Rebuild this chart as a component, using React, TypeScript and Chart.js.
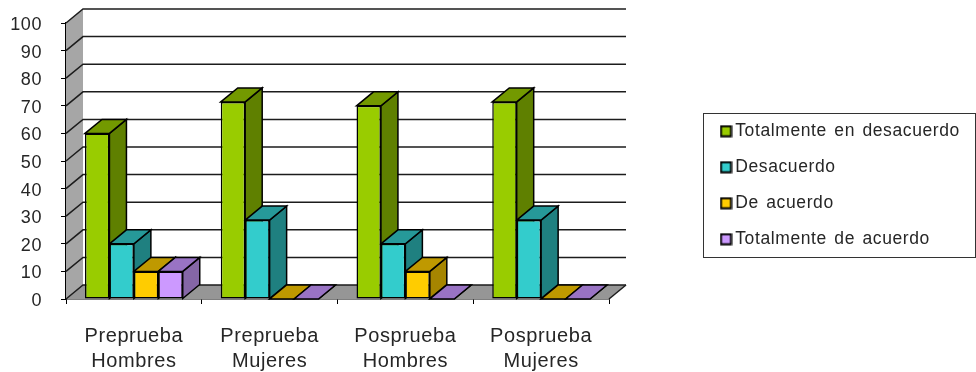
import { useEffect, useRef } from "react";
import { Chart, registerables } from "chart.js";

Chart.register(...registerables);

const categories = [
  ["Preprueba", "Hombres"],
  ["Preprueba", "Mujeres"],
  ["Posprueba", "Hombres"],
  ["Posprueba", "Mujeres"],
];
const seriesNames = ["Totalmente en desacuerdo", "Desacuerdo", "De acuerdo", "Totalmente de acuerdo"];
const totalmenteDesacuerdo = [60, 71.4, 70, 71.4];
const desacuerdo = [20, 28.6, 20, 28.6];
const deAcuerdo = [10, 0, 10, 0];
const totalmenteAcuerdo = [10, 0, 0, 0];
const seriesValues = [totalmenteDesacuerdo, desacuerdo, deAcuerdo, totalmenteAcuerdo];
const frontColors = ["#99CC00", "#33CCCC", "#FFCC00", "#CC99FF"];
const topColors = ["#739900", "#269999", "#BF9900", "#9973C4"];
const sideColors = ["#5F8000", "#1F8080", "#A68500", "#8566A6"];

const FONT = "'Liberation Sans', Arial, sans-serif";
const INK = "#262626";
const DEPTH_X = 17;
const DEPTH_Y = 14;

function polygon(ctx: CanvasRenderingContext2D, pts: number[][], fill: string | null, stroke = "#000", width = 1.5) {
  ctx.beginPath();
  pts.forEach(([x, y], i) => (i ? ctx.lineTo(x, y) : ctx.moveTo(x, y)));
  ctx.closePath();
  if (fill) {
    ctx.fillStyle = fill;
    ctx.fill();
  }
  if (stroke) {
    ctx.strokeStyle = stroke;
    ctx.lineWidth = width;
    ctx.lineJoin = "miter";
    ctx.stroke();
  }
}

function legendSwatch(color: string) {
  const c = document.createElement("canvas");
  c.width = 13;
  c.height = 13;
  const g = c.getContext("2d")!;
  g.fillStyle = "#000";
  g.fillRect(0.5, 0.5, 12, 12);
  g.fillStyle = color;
  g.fillRect(2.5, 2.5, 8, 8);
  return c;
}

function applyTextSpacing(ctx: any) {
  ctx.letterSpacing = "0.6px";
  ctx.wordSpacing = "2px";
}

// Side wall, floor, back-wall gridlines, then the top and side faces of every bar.
// Chart.js paints the front faces afterwards, over these.
const boxPlugin = {
  id: "box3d",
  beforeDatasetsDraw(chart: any) {
    const { ctx, chartArea: a, scales } = chart;
    const y = scales.y;
    ctx.save();
    polygon(ctx, [[a.left, a.top], [a.left + DEPTH_X, a.top - DEPTH_Y], [a.left + DEPTH_X, a.bottom - DEPTH_Y], [a.left, a.bottom]], "#A6A6A6", "");
    polygon(ctx, [[a.left, a.bottom], [a.right, a.bottom], [a.right + DEPTH_X, a.bottom - DEPTH_Y], [a.left + DEPTH_X, a.bottom - DEPTH_Y]], "#969696", "");
    ctx.strokeStyle = "#1c1c1c";
    ctx.lineWidth = 1.5;
    y.ticks.forEach((t: any) => {
      const py = y.getPixelForValue(t.value);
      ctx.beginPath();
      ctx.moveTo(a.left, py);
      ctx.lineTo(a.left + DEPTH_X, py - DEPTH_Y);
      ctx.lineTo(a.right + DEPTH_X, py - DEPTH_Y);
      ctx.stroke();
    });
    ctx.beginPath();
    ctx.moveTo(a.right, a.bottom);
    ctx.lineTo(a.right + DEPTH_X, a.bottom - DEPTH_Y);
    ctx.stroke();

    seriesNames.forEach((_, i) => {
      chart.getDatasetMeta(i).data.forEach((bar: any) => {
        const { x, y: top, base, width } = bar.getProps(["x", "y", "base", "width"], true);
        const l = x - width / 2;
        const r = x + width / 2;
        polygon(ctx, [[r, top], [r + DEPTH_X, top - DEPTH_Y], [r + DEPTH_X, base - DEPTH_Y], [r, base]], sideColors[i]);
        polygon(ctx, [[l, top], [l + DEPTH_X, top - DEPTH_Y], [r + DEPTH_X, top - DEPTH_Y], [r, top]], topColors[i]);
      });
    });
    ctx.restore();
  },
};

// Places the legend column beside the plot and frames it.
const legendFramePlugin = {
  id: "legendFrame",
  beforeLayout(chart: any) {
    applyTextSpacing(chart.ctx);
  },
  afterLayout(chart: any) {
    const l = chart.legend;
    l.maxWidth = 300;
    l.maxHeight = 372;
    l.fit();
    l.left = 707;
    l.right = l.left + l.width;
    l.top = 104;
    l.bottom = l.top + l.height;
    l.adjustHitBoxes();
  },
  beforeDraw(chart: any) {
    const { ctx } = chart;
    applyTextSpacing(ctx);
    ctx.save();
    ctx.strokeStyle = "#333";
    ctx.lineWidth = 1;
    ctx.strokeRect(703.5, 113.5, 272, 144);
    ctx.restore();
  },
};

export default function App() {
  const ref = useRef<HTMLCanvasElement>(null);
  useEffect(() => {
    const chart = new Chart(ref.current!, {
      type: "bar",
      data: {
        labels: categories,
        datasets: seriesNames.map((label, i) => ({
          label,
          data: seriesValues[i],
          backgroundColor: frontColors[i],
          borderColor: "#000",
          borderWidth: 1.5,
          borderSkipped: false,
          categoryPercentage: 0.72,
          barPercentage: 1,
          clip: 8,
        })),
      },
      plugins: [boxPlugin, legendFramePlugin],
      options: {
        animation: false,
        responsive: false,
        layout: { padding: { top: 23, left: 0, right: 164, bottom: 0 } },
        plugins: {
          tooltip: { enabled: false },
          legend: {
            position: "right",
            align: "start",
            labels: {
              color: INK,
              font: { family: FONT, size: 17.5 },
              usePointStyle: true,
              pointStyleWidth: 1,
              boxHeight: 12,
              padding: 18.5,
              generateLabels: () =>
                seriesNames.map((text, i) => ({
                  text,
                  datasetIndex: i,
                  pointStyle: legendSwatch(frontColors[i]),
                  fontColor: INK,
                  lineWidth: 0,
                })) as any,
            },
          },
        },
        scales: {
          x: {
            offset: true,
            afterFit: (s: any) => {
              s.height = 73;
            },
            grid: { offset: true, drawOnChartArea: false, drawTicks: true, tickLength: 5, color: "#000" },
            border: { display: true, color: "#000", width: 1.5 },
            ticks: {
              color: INK,
              font: { family: FONT, size: 20, lineHeight: 1.25 },
              padding: 20,
              maxRotation: 0,
              autoSkip: false,
            },
          },
          y: {
            min: 0,
            max: 100,
            afterFit: (s: any) => {
              s.width = 66;
              s.paddingTop = 0;
              s.paddingBottom = 0;
            },
            grid: { drawOnChartArea: false, drawTicks: true, tickLength: 5, color: "#000" },
            border: { display: true, color: "#000", width: 1.5 },
            ticks: { color: INK, stepSize: 10, font: { family: FONT, size: 18 }, padding: 19, labelOffset: 2 },
          },
        },
      },
    } as any);
    return () => chart.destroy();
  }, []);
  return (
    <div style={{ position: "fixed", left: 0, top: 0, width: 976, height: 372, background: "#fff" }}>
      <canvas ref={ref} width={976} height={372} style={{ display: "block" }} />
    </div>
  );
}
